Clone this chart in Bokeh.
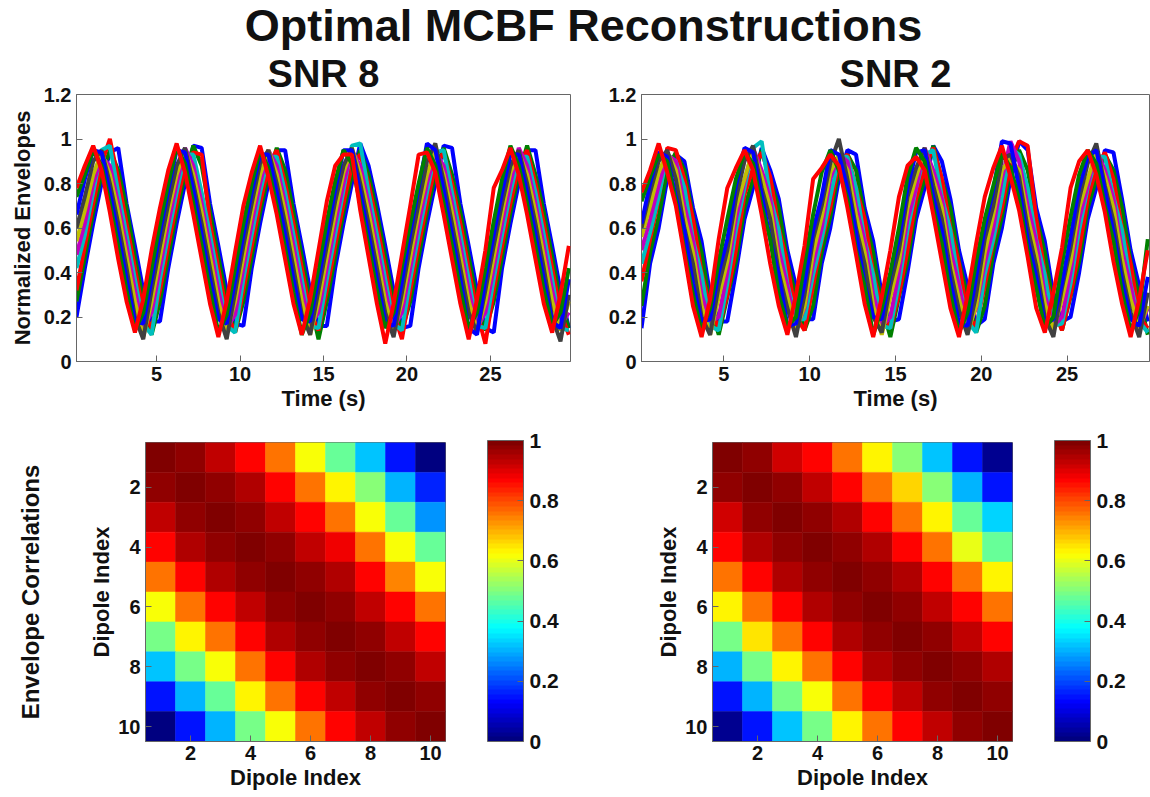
from bokeh.plotting import figure
from bokeh.layouts import column, row
from bokeh.models import (Range1d, FixedTicker, ColorBar, LinearColorMapper, LinearAxis,
                          ColumnDataSource, Label)
from bokeh.embed import file_html
from bokeh.resources import INLINE

# ---------------- data ----------------
time_s = [0.2, 0.7, 1.2, 1.7, 2.2, 2.7, 3.2, 3.7, 4.2, 4.7,
          5.2, 5.7, 6.2, 6.7, 7.2, 7.7, 8.2, 8.7, 9.2, 9.7,
          10.2, 10.7, 11.2, 11.7, 12.2, 12.7, 13.2, 13.7, 14.2, 14.7,
          15.2, 15.7, 16.2, 16.7, 17.2, 17.7, 18.2, 18.7, 19.2, 19.7,
          20.2, 20.7, 21.2, 21.7, 22.2, 22.7, 23.2, 23.7, 24.2, 24.7,
          25.2, 25.7, 26.2, 26.7, 27.2, 27.7, 28.2, 28.7, 29.2, 29.7]

# SNR 8 envelopes, dipoles 1..10
snr8_d1 = [0.20,0.42,0.62,0.80,0.94,0.96,0.71,0.52,0.32,0.18, 0.18,0.42,0.62,0.80,0.97,0.96,0.71,0.52,0.32,0.17,
           0.16,0.42,0.62,0.80,0.95,0.95,0.71,0.52,0.32,0.16, 0.16,0.42,0.62,0.80,0.98,0.88,0.71,0.52,0.32,0.15,
           0.16,0.42,0.62,0.80,0.97,0.96,0.71,0.52,0.32,0.15, 0.13,0.42,0.62,0.80,0.95,0.95,0.71,0.52,0.32,0.15]
snr8_d2 = [0.27,0.47,0.67,0.84,0.95,0.86,0.69,0.47,0.27,0.12, 0.27,0.47,0.67,0.84,0.97,0.88,0.67,0.47,0.27,0.13,
           0.27,0.47,0.67,0.84,0.96,0.86,0.67,0.47,0.27,0.10, 0.27,0.47,0.67,0.84,0.95,0.84,0.67,0.47,0.27,0.14,
           0.27,0.47,0.67,0.84,0.96,0.84,0.67,0.47,0.27,0.14, 0.27,0.47,0.67,0.84,0.97,0.84,0.67,0.47,0.27,0.15]
snr8_d3 = [0.32,0.52,0.71,0.89,1.00,0.82,0.62,0.42,0.22,0.15, 0.32,0.52,0.71,0.88,0.94,0.93,0.62,0.42,0.22,0.13,
           0.32,0.52,0.71,0.88,0.95,0.80,0.62,0.42,0.22,0.14, 0.32,0.52,0.71,0.88,0.93,0.80,0.62,0.42,0.22,0.10,
           0.32,0.52,0.71,0.88,0.94,0.80,0.62,0.42,0.22,0.08, 0.32,0.52,0.71,0.88,0.95,0.80,0.62,0.42,0.22,0.12]
snr8_d4 = [0.42,0.57,0.76,0.95,0.97,0.76,0.57,0.37,0.17,0.12, 0.37,0.57,0.76,0.93,0.93,0.76,0.57,0.37,0.16,0.13,
           0.37,0.57,0.76,0.92,0.92,0.76,0.57,0.37,0.16,0.15, 0.37,0.57,0.77,0.97,0.98,0.76,0.57,0.37,0.17,0.14,
           0.37,0.57,0.76,0.94,0.95,0.76,0.57,0.37,0.16,0.15, 0.37,0.57,0.76,0.92,0.92,0.76,0.57,0.37,0.15,0.14]
snr8_d5 = [0.48,0.62,0.80,0.92,0.88,0.71,0.52,0.32,0.15,0.22, 0.42,0.62,0.80,0.96,0.88,0.71,0.52,0.32,0.15,0.21,
           0.42,0.62,0.80,0.95,0.88,0.71,0.52,0.32,0.16,0.22, 0.42,0.62,0.80,0.95,0.88,0.71,0.52,0.32,0.15,0.22,
           0.42,0.62,0.80,0.94,0.88,0.71,0.52,0.32,0.15,0.22, 0.42,0.62,0.80,0.96,0.88,0.71,0.52,0.32,0.16,0.22]
snr8_d6 = [0.54,0.68,0.84,0.94,0.84,0.67,0.47,0.27,0.11,0.27, 0.47,0.67,0.84,0.95,0.84,0.67,0.47,0.27,0.13,0.27,
           0.47,0.67,0.84,0.95,0.84,0.67,0.47,0.27,0.12,0.27, 0.47,0.67,0.85,0.96,0.84,0.67,0.47,0.27,0.13,0.27,
           0.47,0.67,0.84,0.95,0.84,0.67,0.47,0.27,0.14,0.27, 0.47,0.67,0.85,0.94,0.84,0.67,0.47,0.27,0.14,0.27]
snr8_d7 = [0.60,0.74,0.90,0.95,0.80,0.62,0.42,0.20,0.10,0.32, 0.52,0.71,0.88,0.96,0.80,0.62,0.42,0.22,0.10,0.31,
           0.52,0.71,0.89,0.95,0.80,0.62,0.42,0.21,0.12,0.32, 0.52,0.72,0.88,0.96,0.80,0.62,0.42,0.22,0.11,0.31,
           0.52,0.71,0.90,0.98,0.81,0.62,0.42,0.22,0.13,0.32, 0.52,0.71,0.88,0.95,0.80,0.62,0.42,0.20,0.09,0.30]
snr8_d8 = [0.66,0.82,0.95,0.94,0.76,0.57,0.37,0.18,0.17,0.37, 0.58,0.77,0.95,0.94,0.77,0.57,0.37,0.19,0.17,0.36,
           0.57,0.76,0.93,0.93,0.76,0.57,0.37,0.19,0.18,0.37, 0.57,0.77,0.95,0.95,0.76,0.57,0.37,0.18,0.16,0.36,
           0.58,0.78,0.98,0.95,0.77,0.57,0.37,0.15,0.12,0.37, 0.57,0.76,0.93,0.93,0.76,0.57,0.37,0.18,0.15,0.37]
snr8_d9 = [0.74,0.84,0.95,0.88,0.71,0.52,0.32,0.14,0.22,0.42, 0.62,0.80,0.96,0.89,0.71,0.52,0.32,0.13,0.21,0.42,
           0.62,0.80,0.95,0.87,0.70,0.51,0.31,0.12,0.22,0.42, 0.63,0.81,0.95,0.89,0.71,0.52,0.32,0.15,0.22,0.43,
           0.62,0.80,0.96,0.88,0.71,0.52,0.32,0.15,0.22,0.42, 0.63,0.82,0.97,0.88,0.71,0.52,0.32,0.16,0.22,0.42]
snr8_d10 = [0.78,0.88,0.97,0.86,0.67,0.46,0.27,0.13,0.28,0.50, 0.69,0.86,0.98,0.85,0.66,0.46,0.26,0.11,0.27,0.49,
            0.70,0.85,0.97,0.83,0.66,0.46,0.26,0.12,0.28,0.50, 0.72,0.88,0.93,0.93,0.68,0.47,0.26,0.08,0.26,0.48,
            0.70,0.93,0.94,0.85,0.66,0.46,0.26,0.10,0.28,0.50, 0.78,0.86,0.96,0.84,0.66,0.46,0.26,0.13,0.30,0.52]

# SNR 2 envelopes, dipoles 1..10
snr2_d1 = [0.15,0.44,0.60,0.82,0.93,0.90,0.69,0.54,0.30,0.18, 0.18,0.40,0.64,0.78,0.96,0.86,0.73,0.50,0.34,0.19,
           0.19,0.44,0.60,0.82,0.95,0.93,0.69,0.54,0.30,0.18, 0.19,0.40,0.64,0.78,0.97,0.90,0.73,0.50,0.34,0.16,
           0.19,0.44,0.60,0.82,0.99,0.95,0.69,0.54,0.30,0.18, 0.20,0.40,0.64,0.78,0.95,0.94,0.73,0.50,0.34,0.18]
snr2_d2 = [0.25,0.49,0.65,0.86,0.94,0.86,0.65,0.49,0.25,0.12, 0.29,0.45,0.69,0.82,0.95,0.82,0.69,0.45,0.29,0.14,
           0.25,0.49,0.65,0.86,0.93,0.86,0.65,0.49,0.25,0.11, 0.29,0.45,0.69,0.82,0.97,0.82,0.69,0.45,0.29,0.13,
           0.25,0.49,0.65,0.86,0.95,0.86,0.65,0.49,0.25,0.14, 0.29,0.45,0.69,0.82,0.93,0.86,0.69,0.45,0.29,0.12]
snr2_d3 = [0.36,0.55,0.73,0.96,0.95,0.82,0.64,0.40,0.24,0.15, 0.30,0.50,0.75,0.87,0.94,0.83,0.60,0.44,0.20,0.14,
           0.34,0.54,0.69,0.90,0.93,0.78,0.64,0.40,0.24,0.15, 0.30,0.50,0.73,0.87,0.96,0.82,0.60,0.44,0.20,0.16,
           0.34,0.54,0.69,0.90,0.99,0.97,0.64,0.40,0.24,0.14, 0.30,0.50,0.73,0.87,0.94,0.82,0.60,0.44,0.20,0.15]
snr2_d4 = [0.44,0.58,0.74,0.93,0.90,0.78,0.55,0.39,0.16,0.14, 0.35,0.59,0.78,0.96,0.99,0.74,0.59,0.35,0.19,0.19,
           0.39,0.55,0.74,0.92,0.92,0.78,0.55,0.39,0.16,0.15, 0.35,0.59,0.78,0.93,0.95,0.74,0.59,0.35,0.18,0.13,
           0.39,0.55,0.74,0.96,0.93,0.78,0.55,0.39,0.16,0.17, 0.35,0.59,0.78,0.92,0.92,0.74,0.59,0.35,0.18,0.13]
snr2_d5 = [0.50,0.64,0.79,0.93,0.90,0.70,0.54,0.30,0.18,0.20, 0.40,0.64,0.81,0.96,0.86,0.73,0.50,0.34,0.15,0.24,
           0.44,0.60,0.82,0.93,0.90,0.70,0.54,0.30,0.16,0.20, 0.40,0.64,0.78,0.96,0.86,0.73,0.50,0.34,0.15,0.24,
           0.44,0.60,0.82,0.99,0.90,0.70,0.54,0.30,0.16,0.20, 0.40,0.64,0.79,0.95,0.86,0.73,0.50,0.34,0.15,0.24]
snr2_d6 = [0.56,0.70,0.85,0.94,0.86,0.65,0.49,0.25,0.12,0.29, 0.45,0.69,0.82,0.95,0.83,0.69,0.45,0.29,0.14,0.25,
           0.49,0.65,0.85,0.93,0.86,0.66,0.49,0.25,0.12,0.29, 0.45,0.69,0.83,0.95,0.82,0.69,0.45,0.28,0.13,0.25,
           0.49,0.66,0.86,0.91,0.86,0.65,0.48,0.26,0.14,0.28, 0.45,0.69,0.82,0.94,0.83,0.69,0.46,0.28,0.15,0.25]
snr2_d7 = [0.60,0.76,0.90,0.95,0.82,0.60,0.44,0.20,0.12,0.34, 0.50,0.73,0.90,0.97,0.78,0.64,0.40,0.24,0.11,0.30,
           0.55,0.70,0.89,1.00,0.82,0.60,0.44,0.20,0.13,0.34, 0.50,0.74,0.87,0.96,0.79,0.64,0.41,0.23,0.12,0.30,
           0.55,0.70,0.91,0.93,0.83,0.60,0.43,0.20,0.11,0.33, 0.51,0.73,0.89,0.98,0.79,0.63,0.40,0.22,0.11,0.31]
snr2_d8 = [0.62,0.80,0.94,0.92,0.74,0.59,0.35,0.18,0.19,0.40, 0.55,0.79,0.96,0.94,0.75,0.55,0.39,0.16,0.17,0.35,
           0.59,0.74,0.95,0.93,0.78,0.58,0.35,0.20,0.19,0.39, 0.55,0.78,0.94,0.95,0.74,0.59,0.36,0.17,0.16,0.38,
           0.60,0.77,0.99,0.98,0.78,0.55,0.38,0.17,0.19,0.35, 0.56,0.78,0.92,0.95,0.77,0.58,0.36,0.19,0.16,0.38]
snr2_d9 = [0.72,0.83,0.93,0.90,0.72,0.50,0.30,0.14,0.24,0.45, 0.64,0.82,0.94,0.89,0.70,0.55,0.30,0.16,0.20,0.44,
           0.66,0.85,0.95,0.86,0.73,0.50,0.34,0.12,0.24,0.40, 0.60,0.83,0.96,0.90,0.69,0.53,0.30,0.13,0.22,0.45,
           0.64,0.79,0.94,0.87,0.73,0.50,0.33,0.15,0.20,0.44, 0.65,0.84,0.95,0.89,0.70,0.54,0.31,0.14,0.23,0.55]
snr2_d10 = [0.76,0.86,0.98,0.85,0.70,0.48,0.25,0.11,0.28,0.55, 0.78,0.87,0.95,0.86,0.66,0.44,0.25,0.12,0.30,0.52,
            0.82,0.87,0.93,0.88,0.69,0.48,0.26,0.11,0.29,0.50, 0.74,0.88,0.92,0.86,0.66,0.45,0.24,0.11,0.30,0.53,
            0.74,0.87,0.97,0.83,0.68,0.47,0.24,0.13,0.31,0.51, 0.78,0.90,0.95,0.84,0.67,0.45,0.26,0.11,0.28,0.50]

snr8_series = [snr8_d1, snr8_d2, snr8_d3, snr8_d4, snr8_d5, snr8_d6, snr8_d7, snr8_d8, snr8_d9, snr8_d10]
snr2_series = [snr2_d1, snr2_d2, snr2_d3, snr2_d4, snr2_d5, snr2_d6, snr2_d7, snr2_d8, snr2_d9, snr2_d10]

dipole_index = [1, 2, 3, 4, 5, 6, 7, 8, 9, 10]

# envelope correlation matrices (row = dipole, col = dipole)
corr_snr8 = [
    [1.00, 0.97, 0.93, 0.87, 0.75, 0.62, 0.48, 0.32, 0.15, 0.01],
    [0.97, 1.00, 0.98, 0.94, 0.87, 0.76, 0.64, 0.50, 0.30, 0.16],
    [0.93, 0.98, 1.00, 0.98, 0.93, 0.87, 0.76, 0.62, 0.47, 0.28],
    [0.87, 0.94, 0.98, 1.00, 0.98, 0.93, 0.88, 0.75, 0.62, 0.48],
    [0.75, 0.87, 0.94, 0.98, 1.00, 0.98, 0.94, 0.87, 0.74, 0.62],
    [0.62, 0.76, 0.86, 0.93, 0.98, 1.00, 0.98, 0.93, 0.87, 0.75],
    [0.49, 0.63, 0.76, 0.87, 0.94, 0.98, 1.00, 0.98, 0.93, 0.86],
    [0.32, 0.49, 0.62, 0.75, 0.87, 0.94, 0.98, 1.00, 0.98, 0.93],
    [0.15, 0.30, 0.47, 0.63, 0.75, 0.87, 0.93, 0.98, 1.00, 0.98],
    [0.01, 0.15, 0.30, 0.49, 0.62, 0.76, 0.86, 0.93, 0.97, 1.00],
]
corr_snr2 = [
    [1.00, 0.97, 0.92, 0.87, 0.75, 0.63, 0.50, 0.32, 0.15, 0.02],
    [0.97, 1.00, 0.98, 0.93, 0.87, 0.76, 0.66, 0.50, 0.30, 0.15],
    [0.92, 0.98, 1.00, 0.98, 0.94, 0.87, 0.75, 0.64, 0.48, 0.33],
    [0.87, 0.95, 0.98, 1.00, 0.98, 0.94, 0.87, 0.75, 0.60, 0.48],
    [0.75, 0.87, 0.95, 0.98, 1.00, 0.98, 0.95, 0.87, 0.75, 0.63],
    [0.63, 0.76, 0.87, 0.94, 0.98, 1.00, 0.98, 0.93, 0.87, 0.75],
    [0.49, 0.65, 0.76, 0.87, 0.95, 0.98, 1.00, 0.98, 0.93, 0.86],
    [0.31, 0.49, 0.63, 0.75, 0.87, 0.94, 0.98, 1.00, 0.98, 0.94],
    [0.15, 0.30, 0.49, 0.61, 0.75, 0.87, 0.93, 0.98, 1.00, 0.98],
    [0.02, 0.15, 0.32, 0.49, 0.63, 0.75, 0.86, 0.93, 0.98, 1.00],
]

time_ticks = [5, 10, 15, 20, 25]
env_ticks = [0, 0.2, 0.4, 0.6, 0.8, 1.0, 1.2]
dipole_ticks = [2, 4, 6, 8, 10]
cbar_ticks = [0, 0.2, 0.4, 0.6, 0.8, 1.0]

# ---------------- style ----------------
FONT = "Liberation Sans"
TXT = "#111111"
AX = "#666666"
line_colors = ["#0000ff", "#008000", "#ff0000", "#00bfbf", "#bf00bf",
               "#bfbf00", "#404040", "#0000ff", "#008000", "#ff0000"]


def jet(n=64):
    out = []
    for i in range(n):
        x = i / (n - 1)
        r = min(max(1.5 - abs(4 * x - 3), 0), 1)
        g = min(max(1.5 - abs(4 * x - 2), 0), 1)
        b = min(max(1.5 - abs(4 * x - 1), 0), 1)
        out.append("#%02x%02x%02x" % (round(r * 255), round(g * 255), round(b * 255)))
    return out


JET = jet(64)


def style_axis(ax, size="20px"):
    ax.major_label_text_font = FONT
    ax.major_label_text_font_style = "bold"
    ax.major_label_text_font_size = size
    ax.major_label_text_color = TXT
    ax.axis_label_text_font = FONT
    ax.axis_label_text_font_style = "bold"
    ax.axis_label_text_font_size = "22px"
    ax.axis_label_text_color = TXT
    ax.axis_line_color = AX
    ax.major_tick_line_color = AX
    ax.major_tick_in = 6
    ax.major_tick_out = 0
    ax.minor_tick_line_color = None


def base_fig(w, h, xr, yr, bl, br, bt, bb, title=None):
    p = figure(width=w, height=h, x_range=xr, y_range=yr, toolbar_location=None,
               output_backend="svg", min_border_left=bl, min_border_right=br,
               min_border_top=bt, min_border_bottom=bb, title=title)
    p.grid.visible = False
    p.outline_line_color = AX
    p.background_fill_color = "white"
    p.border_fill_color = "white"
    if title:
        p.title.text_font = FONT
        p.title.text_font_style = "bold"
        p.title.text_font_size = "38px"
        p.title.text_color = TXT
        p.title.align = "center"
        p.title.standoff = 0
    return p


def env_fig(series, title, w, bl, br, ylabel):
    p = base_fig(w, 376, Range1d(0.2, 29.8), Range1d(0, 1.2), bl, br, 44, 65, title)
    for vals, col in zip(series, line_colors):
        p.line(time_s, vals, line_color=col, line_width=4)
    p.xaxis.ticker = FixedTicker(ticks=time_ticks)
    p.yaxis.ticker = FixedTicker(ticks=env_ticks)
    p.yaxis.major_label_overrides = {0: "0", 1: "1"}
    p.xaxis.axis_label = "Time (s)"
    if ylabel:
        p.yaxis.axis_label = ylabel
    for ax in p.xaxis + p.yaxis:
        style_axis(ax)
    p.xaxis.axis_label_standoff = 2
    p.yaxis.axis_label_standoff = 6
    return p


def corr_fig(mat, w, bl, br, row_label=None):
    p = base_fig(w, 371, Range1d(0.5, 10.5), Range1d(10.5, 0.5), bl, br, 16, 56)
    xs, ys, vs = [], [], []
    for r, rowvals in enumerate(mat):
        for c, v in enumerate(rowvals):
            xs.append(dipole_index[c])
            ys.append(dipole_index[r])
            vs.append(v)
    src = ColumnDataSource(dict(x=xs, y=ys, v=vs))
    mapper = LinearColorMapper(palette=JET, low=0, high=1)
    p.rect(x="x", y="y", width=1, height=1, source=src,
           fill_color={"field": "v", "transform": mapper},
           line_color={"field": "v", "transform": mapper}, line_width=0.5)
    p.xaxis.ticker = FixedTicker(ticks=dipole_ticks)
    p.yaxis.ticker = FixedTicker(ticks=dipole_ticks)
    p.xaxis.axis_label = "Dipole Index"
    p.yaxis.axis_label = "Dipole Index"
    for ax in p.xaxis + p.yaxis:
        style_axis(ax)
    p.xaxis.axis_label_standoff = 2
    p.xaxis.major_label_standoff = 4
    p.yaxis.axis_label_standoff = 1
    cb = ColorBar(color_mapper=mapper, ticker=FixedTicker(ticks=cbar_ticks),
                  width=36, height=301, padding=0, margin=0, location=(42, 0),
                  bar_line_color=AX, major_tick_line_color=AX, major_tick_in=6,
                  major_label_text_font=FONT, major_label_text_font_style="bold",
                  major_label_text_font_size="21px", major_label_text_color=TXT,
                  major_label_overrides={0: "0", 1: "1"}, label_standoff=6,
                  border_line_color=None, background_fill_alpha=0)
    p.add_layout(cb, "right")
    if row_label:
        outer = LinearAxis(ticker=FixedTicker(ticks=[]), axis_label=row_label,
                           axis_line_color=None, major_tick_line_color=None,
                           minor_tick_line_color=None,
                           major_label_standoff=0, axis_label_standoff=43,
                           axis_label_text_font=FONT, axis_label_text_font_style="bold",
                           axis_label_text_font_size="24px", axis_label_text_color=TXT)
        p.add_layout(outer, "left")
    return p


# ---------------- figures ----------------
title_fig = figure(width=1150, height=50, x_range=Range1d(0, 1), y_range=Range1d(0, 1),
                   toolbar_location=None, output_backend="svg", min_border=0,
                   x_axis_location=None, y_axis_location=None, outline_line_color=None)
title_fig.grid.visible = False
title_fig.add_layout(Label(x=0.507, y=0.5, text="Optimal MCBF Reconstructions",
                           text_align="center", text_baseline="middle",
                           text_font=FONT, text_font_style="bold", text_font_size="45px",
                           text_color=TXT))

p1 = env_fig(snr8_series, "SNR 8", 600, 76, 30, "Normalized Envelopes")
p2 = env_fig(snr2_series, "SNR 2", 550, 41, 1, None)
p3 = corr_fig(corr_snr8, 600, 145, 155, "Envelope Correlations")
p4 = corr_fig(corr_snr2, 550, 112, 138)

layout = column(title_fig, row(p1, p2), row(p3, p4))

open("out.html", "w").write(file_html(layout, INLINE))
